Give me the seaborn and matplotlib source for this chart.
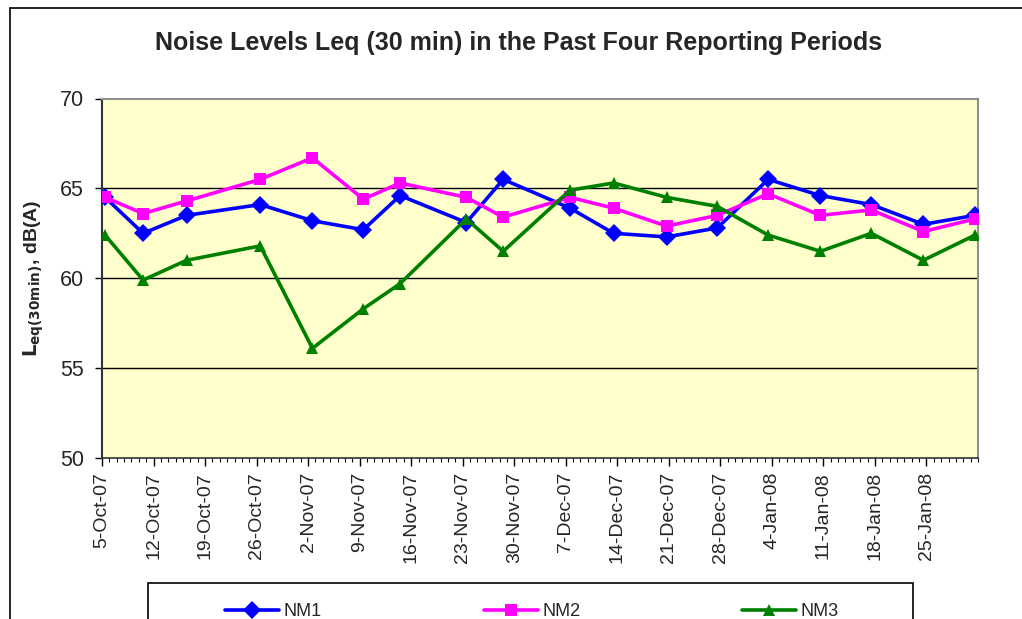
import pandas as pd
import numpy as np
import seaborn as sns
import matplotlib.pyplot as plt
import matplotlib.dates as mdates
from matplotlib.lines import Line2D
from matplotlib.patches import Rectangle

dates = ["2007-10-05 10:00", "2007-10-10 14:00", "2007-10-16 12:00", "2007-10-26 12:00",
         "2007-11-02 14:00", "2007-11-09 12:00", "2007-11-14 12:00", "2007-11-23 12:00",
         "2007-11-28 12:00", "2007-12-07 14:00", "2007-12-13 12:00", "2007-12-20 17:00",
         "2007-12-27 14:00", "2008-01-03 12:00", "2008-01-10 14:00", "2008-01-17 12:00",
         "2008-01-24 14:00", "2008-01-31 14:00"]
nm1 = [64.5, 62.5, 63.5, 64.1, 63.2, 62.7, 64.6, 63.1, 65.5,
       63.9, 62.5, 62.3, 62.8, 65.5, 64.6, 64.1, 63.0, 63.5]
nm2 = [64.5, 63.6, 64.3, 65.5, 66.7, 64.4, 65.3, 64.5, 63.4,
       64.5, 63.9, 62.9, 63.5, 64.7, 63.5, 63.8, 62.6, 63.3]
nm3 = [62.4, 59.9, 61.0, 61.8, 56.1, 58.3, 59.7, 63.3, 61.5,
       64.9, 65.3, 64.5, 64.0, 62.4, 61.5, 62.5, 61.0, 62.4]
stations = ["NM1", "NM2", "NM3"]
tick_labels = ["5-Oct-07", "12-Oct-07", "19-Oct-07", "26-Oct-07", "2-Nov-07", "9-Nov-07",
               "16-Nov-07", "23-Nov-07", "30-Nov-07", "7-Dec-07", "14-Dec-07", "21-Dec-07",
               "28-Dec-07", "4-Jan-08", "11-Jan-08", "18-Jan-08", "25-Jan-08"]

df = pd.DataFrame({"date": pd.to_datetime(dates), "NM1": nm1, "NM2": nm2, "NM3": nm3})
long = df.melt(id_vars="date", var_name="station", value_name="level")

sns.set_style("white")
plt.rcParams['font.family'] = ['Liberation Sans', 'DejaVu Sans']

fig = plt.figure(figsize=(10.22, 6.19), dpi=100)
ax = fig.add_axes([102/1022, 1-458/619, 876/1022, 359.5/619])
ax.set_facecolor("#FFFFCC")

colors = {"NM1": "#0000FF", "NM2": "#FF00FF", "NM3": "#008000"}
markers = {"NM1": "D", "NM2": "s", "NM3": "^"}
sns.lineplot(data=long, x="date", y="level", hue="station", style="station",
             palette=colors, markers=markers, dashes=False, linewidth=2.6,
             markersize=9, markeredgewidth=0, legend=False, ax=ax, zorder=3)

# axes limits & ticks
ax.set_xlim(pd.Timestamp("2007-10-05"), pd.Timestamp("2008-02-01"))
ax.set_ylim(50, 70)
ax.set_yticks([50, 55, 60, 65, 70])
tick_pos = pd.to_datetime(tick_labels, format="%d-%b-%y")
ax.set_xticks(tick_pos)
ax.set_xticklabels(tick_labels, rotation=90, fontsize=14)
ax.xaxis.set_minor_locator(mdates.DayLocator())
ax.tick_params(axis="x", which="major", direction="out", length=6, width=1, color="black", pad=4)
ax.tick_params(axis="x", which="minor", direction="out", length=3, width=0.8, color="black")
ax.tick_params(axis="y", which="major", direction="out", length=5, width=1, color="black",
               labelsize=15.5, pad=8)
ax.xaxis.set_ticks_position("bottom")
ax.yaxis.set_ticks_position("left")

for y in [55, 60, 65]:
    ax.axhline(y, color="black", lw=1, zorder=1)
for s in ["top", "right"]:
    ax.spines[s].set_color("#909090")
    ax.spines[s].set_linewidth(1.5)
ax.spines["left"].set_color("#333333")
ax.spines["left"].set_linewidth(1.5)
ax.spines["bottom"].set_color("#333333")
ax.spines["bottom"].set_linewidth(1.2)

ax.set_xlabel("")
ax.set_ylabel(r"$\mathbf{L_{eq(30min)}}$, dB(A)", fontsize=14, fontweight="bold")
ax.yaxis.set_label_coords(-56/876, 0.5)

fig.text(519/1022, 1-43/619, "Noise Levels Leq (30 min) in the Past Four Reporting Periods",
         ha="center", va="center", fontsize=18, fontweight="bold")

# outer chart border (left and top)
fig.add_artist(Line2D([9.5/1022, 9.5/1022], [0, 1-7.5/619], transform=fig.transFigure, color="black", lw=1.2))
fig.add_artist(Line2D([9.5/1022, 1], [1-7.5/619, 1-7.5/619], transform=fig.transFigure, color="black", lw=1.2))

# legend box, runs off the bottom edge
fig.add_artist(Rectangle((148/1022, -0.05), 765/1022, 0.05 + 1-583/619, transform=fig.transFigure,
                         facecolor="white", edgecolor="black", lw=1.2, zorder=0))
handles = [Line2D([], [], color=colors[s], marker=markers[s], lw=2.6, markersize=9,
                  markeredgewidth=0) for s in stations]
leg = fig.legend(handles, stations, loc="center", ncol=3,
                 bbox_to_anchor=(532/1022, 1-612/619),
                 frameon=False, fontsize=13, handlelength=3.0, handletextpad=0.25,
                 columnspacing=8.95, borderpad=0, borderaxespad=0)

fig.savefig("out.png", dpi=100)
